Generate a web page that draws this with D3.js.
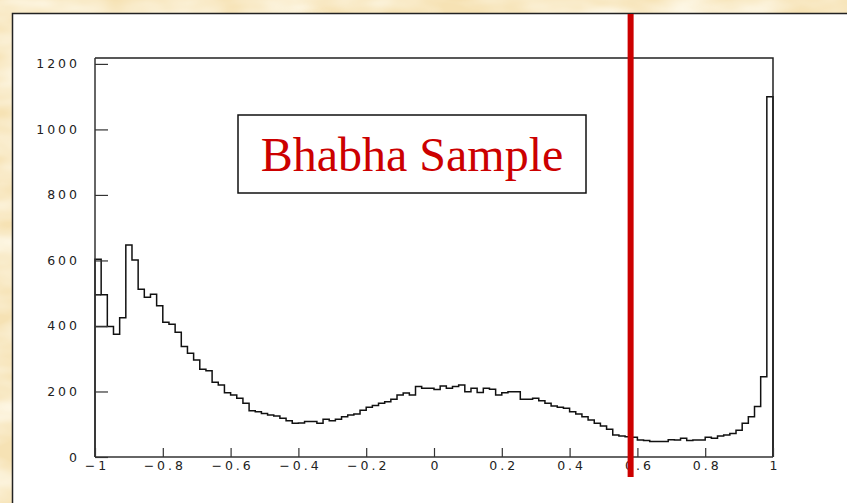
<!DOCTYPE html>
<html>
<head>
<meta charset="utf-8">
<script src="https://cdn.jsdelivr.net/npm/d3@7"></script>
<style>
  html, body { margin: 0; padding: 0; background: #f6e2b4; }
  svg { display: block; }
</style>
</head>
<body>
<svg id="chart" width="847" height="503"></svg>
<script>
// Histogram of cos(theta), 110 equal bins over [-1, 1]
const binCounts = [
  604, 495, 398, 375, 425, 647, 601, 512, 488, 497,
  462, 411, 405, 381, 337, 317, 296, 268, 263, 228,
  220, 196, 189, 179, 164, 141, 138, 133, 128, 125,
  118, 111, 103, 104, 108, 108, 103, 115, 111, 115,
  123, 128, 131, 143, 152, 157, 164, 169, 176, 189,
  195, 189, 215, 210, 210, 206, 217, 210, 215, 220,
  199, 210, 197, 210, 207, 189, 196, 199, 199, 176,
  176, 179, 172, 164, 156, 152, 149, 138, 131, 123,
  113, 103, 95, 85, 67, 64, 62, 60, 52, 50,
  47, 47, 47, 53, 52, 57, 50, 52, 52, 60,
  57, 64, 67, 72, 82, 103, 123, 154, 245, 1100
];
const xRange = [-1, 1];
const yMax = 1218;
// bins whose top edge is also drawn back to the left axis
const ledgeBins = [1, 2];

const xMajorTicks = [-1, -0.8, -0.6, -0.4, -0.2, 0, 0.2, 0.4, 0.6, 0.8, 1];
const xTickLabels = ["\u22121", "\u22120.8", "\u22120.6", "\u22120.4", "\u22120.2", "0", "0.2", "0.4", "0.6", "0.8", "1"];
const yMajorTicks = [0, 200, 400, 600, 800, 1000, 1200];
const yTickLabels = ["0", "200", "400", "600", "800", "1000", "1200"];

const cutValue = 0.58;
const titleText = "Bhabha Sample";

const W = 847, H = 503;
const frame = { left: 95, right: 773, top: 58, bottom: 457 };
const svg = d3.select("#chart");

// parchment backdrop
const defs = svg.append("defs");
const f = defs.append("filter").attr("id", "parch").attr("x", 0).attr("y", 0).attr("width", 1).attr("height", 1);
f.append("feTurbulence").attr("type", "fractalNoise").attr("baseFrequency", "0.012 0.03")
  .attr("numOctaves", 3).attr("seed", 7);
f.append("feColorMatrix").attr("type", "matrix")
  .attr("values", "0 0 0 0 1  0 0 0 0 0.97  0 0 0 0 0.87  1.8 0 0 0 -0.6");
svg.append("rect").attr("width", W).attr("height", H).attr("fill", "#f6e2b4");
svg.append("rect").attr("width", W).attr("height", H).attr("filter", "url(#parch)");

// white canvas
svg.append("rect")
  .attr("x", 12.5).attr("y", 13.5).attr("width", 900).attr("height", 600)
  .attr("fill", "#ffffff").attr("stroke", "#222").attr("stroke-width", 1.5);

const x = d3.scaleLinear().domain(xRange).range([frame.left, frame.right]);
const y = d3.scaleLinear().domain([0, yMax]).range([frame.bottom, frame.top]);

const nBins = binCounts.length;
const binW = (xRange[1] - xRange[0]) / nBins;
const edges = binCounts.map((_, i) => xRange[0] + i * binW);

// histogram outline
const pts = [[xRange[0], 0]];
binCounts.forEach((c, i) => pts.push([edges[i], c]));
pts.push([xRange[1], binCounts[nBins - 1]]);
pts.push([xRange[1], 0]);
const step = d3.line().x(d => x(d[0])).y(d => y(d[1])).curve(d3.curveStepAfter);

const plot = svg.append("g");
plot.append("path").datum(pts).attr("d", step)
  .attr("fill", "none").attr("stroke", "#111").attr("stroke-width", 1.5);

plot.selectAll("line.ledge").data(ledgeBins).join("line").attr("class", "ledge")
  .attr("x1", x(xRange[0])).attr("x2", i => x(edges[i]))
  .attr("y1", i => y(binCounts[i])).attr("y2", i => y(binCounts[i]))
  .attr("stroke", "#111").attr("stroke-width", 1.5);

// frame top and right edges
svg.append("path")
  .attr("d", `M${frame.left},${frame.top}H${frame.right}V${frame.bottom}`)
  .attr("fill", "none").attr("stroke", "#222").attr("stroke-width", 1.5);

const LS = 3;
const tickFont = "'DejaVu Sans', sans-serif";
const tickSize = 12.5;

// y axis (ticks point into the frame)
const yMinor = d3.range(0, 1201, 50).filter(v => v % 200 !== 0);
const gy = svg.append("g").attr("transform", `translate(${frame.left},0)`);
gy.call(d3.axisLeft(y).tickValues(yMinor).tickSize(-7).tickFormat(""));
gy.call(d3.axisLeft(y).tickValues(yMajorTicks).tickSize(-13).tickPadding(18)
  .tickFormat((d, i) => yTickLabels[i]));
gy.selectAll(".domain").remove();
gy.append("line").attr("x1", 0).attr("x2", 0).attr("y1", frame.top).attr("y2", frame.bottom)
  .attr("stroke", "#333").attr("stroke-width", 1.5);
gy.selectAll(".tick line").attr("stroke", "#333").attr("stroke-width", 1.2);
gy.selectAll(".tick text").attr("font-family", tickFont).attr("font-size", tickSize)
  .attr("letter-spacing", LS + "px").attr("dx", LS).attr("fill", "#222");

// x axis (ticks point upward)
const xMinor = d3.range(-20, 21).filter(k => k % 4 !== 0).map(k => k * 0.05);
const gx = svg.append("g").attr("transform", `translate(0,${frame.bottom})`);
gx.call(d3.axisBottom(x).tickValues(xMinor).tickSize(-5).tickFormat(""));
gx.call(d3.axisBottom(x).tickValues(xMajorTicks).tickSize(-9).tickPadding(4)
  .tickFormat((d, i) => xTickLabels[i]));
gx.selectAll(".domain").remove();
gx.append("line").attr("x1", frame.left).attr("x2", frame.right).attr("y1", 0).attr("y2", 0)
  .attr("stroke", "#333").attr("stroke-width", 1.5);
gx.selectAll(".tick line").attr("stroke", "#333").attr("stroke-width", 1.2);
gx.selectAll(".tick text").attr("font-family", tickFont).attr("font-size", tickSize)
  .attr("letter-spacing", LS + "px").attr("dx", LS / 2).attr("fill", "#222");

// title box
const box = { x: 238, y: 115, w: 348, h: 78 };
svg.append("rect").attr("x", box.x).attr("y", box.y).attr("width", box.w).attr("height", box.h)
  .attr("fill", "#fff").attr("stroke", "#111").attr("stroke-width", 1.5);
svg.append("text").attr("x", box.x + box.w / 2).attr("y", 171)
  .attr("text-anchor", "middle")
  .attr("font-family", "'Liberation Serif', 'Times New Roman', serif")
  .attr("font-size", 48).attr("fill", "#cc0000").text(titleText);

// cut line
svg.append("line")
  .attr("x1", x(cutValue)).attr("x2", x(cutValue)).attr("y1", 14).attr("y2", 477)
  .attr("stroke", "#cc0000").attr("stroke-width", 6);
</script>
</body>
</html>
